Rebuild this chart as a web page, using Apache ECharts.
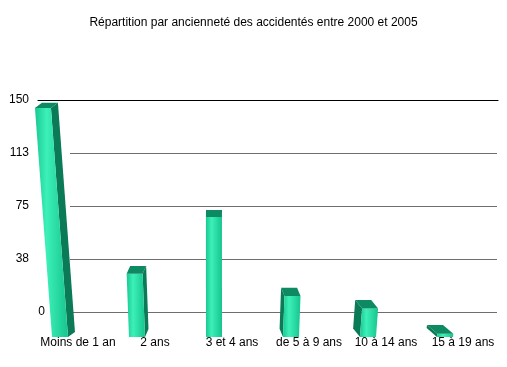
<!DOCTYPE html>
<html>
<head>
<meta charset="utf-8">
<script src="https://cdn.jsdelivr.net/npm/echarts@6/dist/echarts.min.js"></script>
<style>html,body{margin:0;padding:0;background:#fff}#c{width:507px;height:367px}</style>
</head>
<body>
<div id="c"></div>
<script>
const titleText = 'Répartition par ancienneté des accidentés entre 2000 et 2005';
const categories = ['Moins de 1 an', '2 ans', '3 et 4 ans', 'de 5 à 9 ans', '10 à 14 ans', '15 à 19 ans'];
const values = [145, 40, 76, 26, 18, 2];
const yMin = 0, yMax = 150, yStep = 37.5;

const chart = echarts.init(document.getElementById('c'), null, {renderer: 'canvas'});
const FONT = 'Liberation Sans, Arial, sans-serif';

function renderItem(params, api) {
  const i = api.value(0), v = api.value(1);
  const p0 = api.coord([i, 0]);
  const pv = api.coord([i, v]);
  const FRONT_DROP = 25, K = 1.118, W = 16, VPX = 215;
  const yb = p0[1] + FRONT_DROP;
  const h = Math.max((p0[1] - pv[1]) * K, 3);
  const xb = p0[0] - 18;
  const lean = (xb - VPX) * h * 0.00048;
  const xt = xb + lean;
  const dx = (VPX - xb) * 0.045;
  const dy = -(5 + 4 * (1 - h / 230));
  const yt = yb - h;
  const front = [[xt - W / 2, yt], [xt + W / 2, yt], [xb + W / 2, yb], [xb - W / 2, yb]];
  let side;
  if (dx >= 0) {
    side = [[xt + W / 2, yt], [xt + W / 2 + dx, yt + dy], [xb + W / 2 + dx, yb + dy], [xb + W / 2, yb]];
  } else {
    side = [[xt - W / 2, yt], [xt - W / 2 + dx, yt + dy], [xb - W / 2 + dx, yb + dy], [xb - W / 2, yb]];
  }
  const top = [[xt - W / 2, yt], [xt + W / 2, yt], [xt + W / 2 + dx, yt + dy], [xt - W / 2 + dx, yt + dy]];
  return {
    type: 'group',
    children: [
      {type: 'polygon', shape: {points: side}, style: {fill: '#0b7a57'}},
      {type: 'polygon', shape: {points: front}, style: {
        fill: new echarts.graphic.LinearGradient(0, 0, 1, 0, [
          {offset: 0, color: '#19c892'},
          {offset: 0.35, color: '#3cf0b8'},
          {offset: 1, color: '#16c48e'}
        ])
      }},
      {type: 'polygon', shape: {points: top}, style: {fill: '#0e8a63'}}
    ]
  };
}

chart.setOption({
  animation: false,
  title: {
    text: titleText, left: 'center', top: 12,
    textStyle: {fontFamily: FONT, fontSize: 12, fontWeight: 'normal', color: '#000'}
  },
  grid: [
    {left: 39.5, right: 5.5, top: 100, bottom: 55},
    {left: 70, right: 10, top: 100, bottom: 55},
    {left: 38, right: 9, top: 100, height: 0}
  ],
  xAxis: [
    {
      gridIndex: 0, type: 'category', data: categories,
      axisLine: {show: false}, axisTick: {show: false},
      axisLabel: {margin: 25, fontFamily: FONT, fontSize: 12, color: '#000', interval: 0}
    },
    {gridIndex: 1, type: 'value', show: false},
    {
      gridIndex: 2, type: 'value', position: 'top',
      axisLine: {show: true, lineStyle: {color: '#000', width: 1.2}},
      axisTick: {show: false}, axisLabel: {show: false}, splitLine: {show: false}
    }
  ],
  yAxis: [
    {gridIndex: 0, type: 'value', min: yMin, max: yMax, interval: yStep, show: false},
    {
      gridIndex: 1, type: 'value', min: yMin, max: yMax, interval: yStep,
      axisLine: {show: false}, axisTick: {show: false},
      splitLine: {show: true, lineStyle: {color: '#6e6e6e', width: 1.2}},
      axisLabel: {
        margin: 25, fontFamily: FONT, fontSize: 12, color: '#000',
        formatter: function (v) {
          const s = String(Math.round(v));
          return v === 0 ? '{z|' + s + '}' : '{n|' + s + '}';
        },
        rich: {
          z: {fontFamily: FONT, fontSize: 12, color: '#000'},
          n: {fontFamily: FONT, fontSize: 12, color: '#000', padding: [0, 16, 0, 0]}
        }
      }
    },
    {gridIndex: 2, type: 'value', show: false}
  ],
  series: [{
    type: 'custom',
    xAxisIndex: 0, yAxisIndex: 0,
    clip: false,
    renderItem: renderItem,
    encode: {x: 0, y: 1},
    data: categories.map((c, i) => [i, values[i]]),
    z: 10
  }]
});
</script>
</body>
</html>
